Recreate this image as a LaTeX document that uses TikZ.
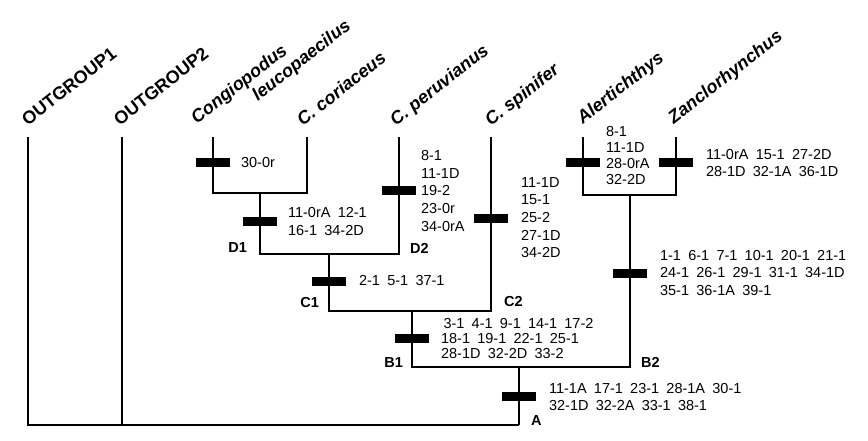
\documentclass[tikz,border=0pt]{standalone}
\usepackage{fontspec}
\setmainfont{Liberation Sans}
\begin{document}
\begin{tikzpicture}[x=1pt,y=-1pt,line width=2.2pt,
  bar/.style={fill=black,draw=none,minimum width=34pt,minimum height=9pt,inner sep=0pt},
  chr/.style={anchor=west,font=\fontsize{14.5}{17.7}\selectfont,align=left,inner sep=0pt},
  chs/.style={chr,font=\fontsize{14.5}{14.6}\selectfont},
  tax/.style={anchor=base west,rotate=38,font=\bfseries\itshape\fontsize{18}{20}\selectfont,inner sep=0pt},
  og/.style={tax,font=\bfseries\fontsize{18}{20}\selectfont},
  lab/.style={font=\bfseries\fontsize{14.5}{16}\selectfont,inner sep=0pt}]
\useasboundingbox (0,0) rectangle (868,441);
% coordinates
\coordinate (o1) at (28,137); \coordinate (o1b) at (28,425);
\coordinate (o2) at (122,137); \coordinate (o2b) at (122,425);
\coordinate (A) at (519,425); \coordinate (Ab) at (519,367);
\coordinate (B1) at (412,367); \coordinate (B2) at (630,367);
\coordinate (B1t) at (412,311); \coordinate (C1) at (329,311); \coordinate (C2) at (491,311);
\coordinate (C1t) at (329,254); \coordinate (D1) at (260,254); \coordinate (D2) at (399,254);
\coordinate (D1t) at (260,193); \coordinate (cg) at (213,193); \coordinate (cc) at (307,193);
\coordinate (cgt) at (213,137); \coordinate (cct) at (307,137);
\coordinate (cp) at (399,137); \coordinate (cs) at (491,137);
\coordinate (B2t) at (630,195); \coordinate (al) at (583,195); \coordinate (za) at (676,195);
\coordinate (alt) at (583,137); \coordinate (zat) at (676,137);
% tree
\draw (o1) -- (o1b) -- (A);
\draw (o2) -- (o2b);
\draw (A) -- (Ab);
\draw (B1t) -- (B1) -- (B2) -- (B2t);
\draw (C1t) -- (C1) -- (C2) -- (cs);
\draw (D1t) -- (D1) -- (D2) -- (cp);
\draw (cgt) -- (cg) -- (cc) -- (cct);
\draw (alt) -- (al) -- (za) -- (zat);
% bars
\node[bar] (bA) at (519,396) {};
\node[bar] (bB1) at (412,338) {};
\node[bar] (bB2) at (630,273) {};
\node[bar] (bC1) at (329,281) {};
\node[bar] (bC2) at (491,218) {};
\node[bar] (bD1) at (260,221) {};
\node[bar] (bD2) at (399,191) {};
\node[bar] (bcg) at (213,163) {};
\node[bar] (bal) at (583,163) {};
\node[bar] (bza) at (676,163) {};
% node labels
\node[lab,anchor=west] (lA) at (530,421) {A};
\node[lab,anchor=east] (lB1) at (404,363) {B1};
\node[lab,anchor=west] (lB2) at (640,362) {B2};
\node[lab,anchor=east] (lC1) at (320,303) {C1};
\node[lab,anchor=west] (lC2) at (503,302) {C2};
\node[lab,anchor=east] (lD1) at (248,248) {D1};
\node[lab,anchor=west] (lD2) at (409,248) {D2};
% characters
\node[chr] (tcg) at (240,163) {30-0r};
\node[chr] (tD1) at (287,221.5) {11-0rA\enspace 12-1\\16-1\enspace 34-2D};
\node[chr] (tD2) at (420,191) {8-1\\11-1D\\19-2\\23-0r\\34-0rA};
\node[chr] (tC2) at (520,217.5) {11-1D\\15-1\\25-2\\27-1D\\34-2D};
\node[chr] (tC1) at (358,281) {2-1\enspace 5-1\enspace 37-1};
\node[chs] (tB1) at (440,338.5) {\,3-1\enspace 4-1\enspace 9-1\enspace 14-1\enspace 17-2\\18-1\enspace 19-1\enspace 22-1\enspace 25-1\\28-1D\enspace 32-2D\enspace 33-2};
\node[chr] (tA) at (548,397) {11-1A\enspace 17-1\enspace 23-1\enspace 28-1A\enspace 30-1\\32-1D\enspace 32-2A\enspace 33-1\enspace 38-1};
\node[chr] (tB2) at (659,273) {1-1\enspace 6-1\enspace 7-1\enspace 10-1\enspace 20-1\enspace 21-1\\24-1\enspace 26-1\enspace 29-1\enspace 31-1\enspace 34-1D\\35-1\enspace 36-1A\enspace 39-1};
\node[chr,font=\fontsize{14.5}{16}\selectfont] (tal) at (605,156) {8-1\\11-1D\\28-0rA\\32-2D};
\node[chr] (tza) at (705,163) {11-0rA\enspace 15-1\enspace 27-2D\\28-1D\enspace 32-1A\enspace 36-1D};
% taxa
\node[og] (n1) at (27,127) {OUTGROUP1};
\node[og] (n2) at (119,127) {OUTGROUP2};
\node[tax] (n3) at (196,125) {Congiopodus};
\node[tax] (n3b) at (257,102) {leucopaecilus};
\node[tax] (n4) at (302,127) {C. coriaceus};
\node[tax] (n5) at (395,127) {C. peruvianus};
\node[tax] (n6) at (490,127) {C. spinifer};
\node[tax] (n7) at (582,125) {Alertichthys};
\node[tax] (n8) at (673,125) {Zanclorhynchus};
\end{tikzpicture}
\end{document}
